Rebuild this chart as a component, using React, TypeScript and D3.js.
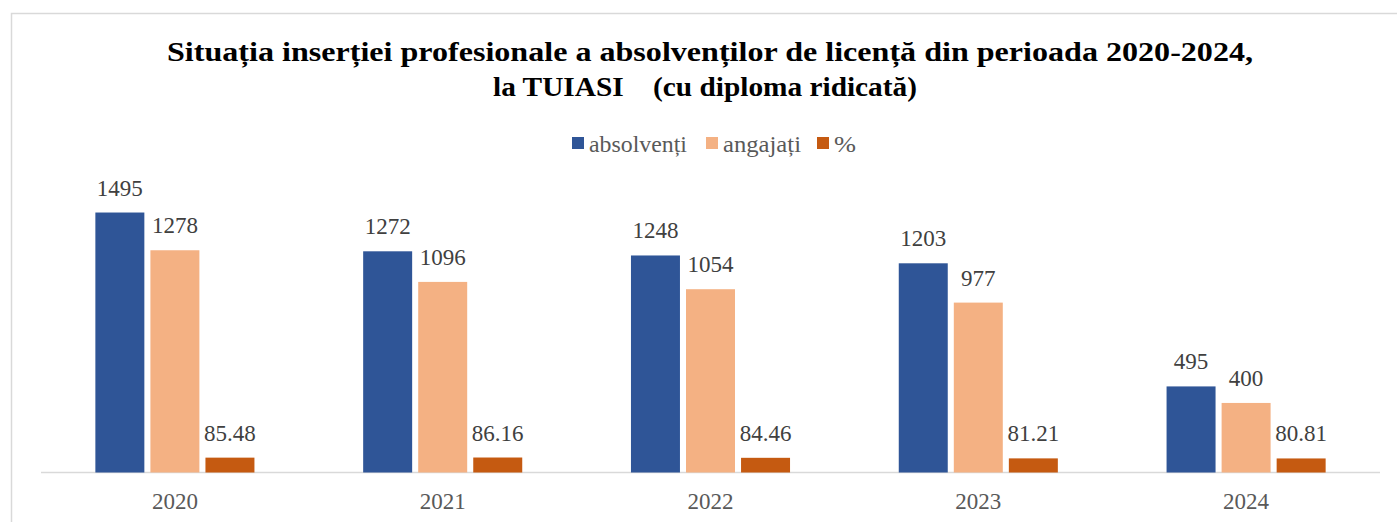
import * as d3 from "d3";
import { useRef, useEffect } from "react";

const years = ["2020", "2021", "2022", "2023", "2024"];
const absolventi = [1495, 1272, 1248, 1203, 495];
const angajati = [1278, 1096, 1054, 977, 400];
const procent = [85.48, 86.16, 84.46, 81.21, 80.81];
const procentLabels = ["85.48", "86.16", "84.46", "81.21", "80.81"];

const seriesNames = ["absolvenți", "angajați", "%"];
const colors = ["#2F5597", "#F4B183", "#C55A11"];

const titleLine1 = "Situația inserției profesionale a absolvenților de licență din perioada 2020-2024,";
const titleLine2 = "la TUIASI    (cu diploma ridicată)";

export default function App() {
  const ref = useRef<SVGSVGElement>(null);

  useEffect(() => {
    const svg = d3.select(ref.current);
    svg.selectAll("*").remove();

    const w = 1397, h = 522;
    const left = 41, right = 1380, base = 472.5;
    const serif = "'Liberation Serif', 'Times New Roman', serif";

    // chart frame
    svg.append("rect")
      .attr("x", 11.5).attr("y", 13.5)
      .attr("width", 1420).attr("height", 540)
      .attr("fill", "#fff")
      .attr("stroke", "#d9d9d9")
      .attr("stroke-width", 1.5);

    // title
    svg.append("text")
      .attr("x", 167).attr("y", 61)
      .attr("textLength", 1086).attr("lengthAdjust", "spacingAndGlyphs")
      .attr("font-family", serif).attr("font-weight", "bold")
      .attr("font-size", 28).attr("fill", "#000")
      .text(titleLine1);
    svg.append("text")
      .attr("x", 493).attr("y", 96)
      .attr("textLength", 424).attr("lengthAdjust", "spacingAndGlyphs")
      .attr("font-family", serif).attr("font-weight", "bold")
      .attr("font-size", 28).attr("fill", "#000")
      .style("white-space", "pre")
      .text(titleLine2);

    // legend
    const legendX = [572, 706, 817];
    const legendW = [98, 78, 22];
    const lg = svg.append("g");
    seriesNames.forEach((name, i) => {
      lg.append("rect")
        .attr("x", legendX[i]).attr("y", 137)
        .attr("width", 12).attr("height", 12)
        .attr("fill", colors[i]);
      lg.append("text")
        .attr("x", legendX[i] + 17).attr("y", 152)
        .attr("textLength", legendW[i]).attr("lengthAdjust", "spacingAndGlyphs")
        .attr("font-family", serif).attr("font-size", 23)
        .attr("fill", "#595959")
        .text(name);
    });

    // scales
    const x0 = d3.scaleBand().domain(years).range([left, right])
      .paddingInner(0.406).paddingOuter(0.203);
    const x1 = d3.scaleBand().domain(seriesNames).range([0, x0.bandwidth()])
      .paddingInner(0.11);
    const y = d3.scaleLinear().domain([0, 1600]).range([base, base - 1600 * 0.1739]);

    const series = [absolventi, angajati, procent];
    const labels = [absolventi.map(String), angajati.map(String), procentLabels];

    // axis line
    svg.append("line")
      .attr("x1", left).attr("x2", right)
      .attr("y1", base).attr("y2", base)
      .attr("stroke", "#d9d9d9").attr("stroke-width", 1.5);

    // bars + labels
    series.forEach((vals, si) => {
      const g = svg.append("g");
      g.selectAll("rect").data(vals).join("rect")
        .attr("x", (_, i) => x0(years[i])! + x1(seriesNames[si])!)
        .attr("y", d => y(d))
        .attr("width", x1.bandwidth())
        .attr("height", d => base - y(d))
        .attr("fill", colors[si]);
      g.selectAll("text").data(vals).join("text")
        .attr("x", (_, i) => x0(years[i])! + x1(seriesNames[si])! + x1.bandwidth() / 2)
        .attr("y", d => y(d) - 17)
        .attr("text-anchor", "middle")
        .attr("font-family", serif).attr("font-size", 23)
        .attr("fill", "#404040")
        .text((_, i) => labels[si][i]);
    });

    // category labels
    svg.append("g").selectAll("text").data(years).join("text")
      .attr("x", d => x0(d)! + x0.bandwidth() / 2)
      .attr("y", 509)
      .attr("text-anchor", "middle")
      .attr("font-family", serif).attr("font-size", 23)
      .attr("fill", "#595959")
      .text(d => d);

    svg.attr("width", w).attr("height", h);
  }, []);

  return (
    <svg
      ref={ref}
      width={1397}
      height={522}
      style={{ position: "absolute", left: 0, top: 0, display: "block", background: "#fff" }}
    />
  );
}
